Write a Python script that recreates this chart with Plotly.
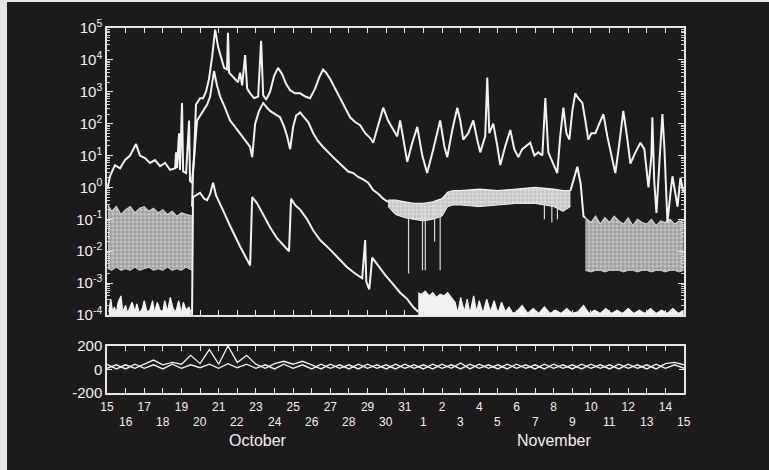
import plotly.graph_objects as go
from plotly.subplots import make_subplots

# ---------------- data (x = days after 15 October, y = log10 of flux) ----------------
hi_day = [0.05, 0.16, 0.43, 0.7, 0.97, 1.24, 1.4, 1.56, 1.77, 2.04, 2.31, 2.58, 2.85, 3.12, 3.39, 3.66,
          3.71, 3.76, 3.87, 3.92, 4.03, 4.09, 4.25, 4.41, 4.46, 4.57, 4.68, 4.78, 5.0, 5.16, 5.32, 5.48,
          5.65, 5.81, 5.97, 6.13, 6.29, 6.45, 6.5, 6.56, 6.72, 6.88, 7.04, 7.15, 7.26, 7.42, 7.53, 7.69,
          7.9, 8.12, 8.28, 8.39, 8.55, 8.76, 8.98, 9.19, 9.41, 9.62, 9.84, 10.1, 10.38, 10.65, 10.91,
          11.18, 11.4, 11.61, 11.77, 11.99, 12.26, 12.53, 12.8, 13.06, 13.33, 13.6, 13.87, 14.14, 14.3,
          14.57, 14.84, 15.1, 15.38, 15.59, 15.75, 15.97, 16.13, 16.4, 16.67, 16.94, 17.2, 17.53, 17.9,
          18.12, 18.28, 18.55, 18.82, 18.98, 19.14, 19.41, 19.68, 19.89, 20.05, 20.32, 20.43, 20.54,
          20.75, 20.97, 21.13, 21.4, 21.67, 21.88, 22.1, 22.31, 22.53, 22.74, 22.96, 23.17, 23.39, 23.55,
          23.71, 23.92, 24.19, 24.35, 24.52, 24.68, 24.84, 25.0, 25.16, 25.32, 25.54, 25.7, 25.86, 26.02,
          26.24, 26.45, 26.67, 26.88, 27.1, 27.31, 27.53, 27.74, 27.96, 28.12, 28.39, 28.66, 28.87, 29.09,
          29.25, 29.3, 29.4, 29.52, 29.68, 29.84, 29.95, 30.11, 30.27, 30.38, 30.54, 30.65, 30.81, 30.97]
hi_log = [0.02, 0.36, 0.7, 0.6, 0.86, 1.0, 1.18, 1.36, 1.0, 0.92, 0.77, 0.86, 0.67, 0.77, 0.55, 0.6,
          1.1, 0.6, 1.7, 0.55, 2.65, 0.5, 0.45, 2.1, 0.2, 0.15, 1.0, 2.6, 2.8, 2.8, 3.0, 3.4,
          4.1, 4.95, 4.4, 4.05, 3.75, 3.7, 4.85, 3.6, 3.5, 3.4, 3.3, 3.6, 3.2, 4.15, 3.1, 2.95,
          2.8, 2.85, 4.6, 2.9, 2.75, 3.0, 3.5, 3.75, 3.55, 3.25, 3.05, 2.95, 2.95, 2.85, 2.8,
          3.1, 3.45, 3.7, 3.6, 3.4, 3.1, 2.75, 2.45, 2.2, 2.05, 1.95, 1.7, 1.55, 1.4,
          1.95, 2.5, 2.1, 1.8, 1.6, 2.1, 1.3, 0.8, 1.4, 1.9, 1.0, 0.45, 1.2, 2.1,
          1.3, 0.95, 1.8, 2.5, 2.1, 1.5, 1.7, 2.1, 1.5, 1.1, 1.6, 3.45, 1.7,
          2.0, 1.3, 0.7, 1.3, 1.8, 1.2, 0.95, 1.2, 1.3, 1.4, 1.0, 1.1, 1.0, 2.8,
          1.1, 0.8, 0.45, 1.6, 2.5, 1.7, 1.5, 2.4, 2.95, 2.8, 2.65, 2.1, 1.5, 1.7,
          1.7, 2.0, 2.3, 1.6, 1.0, 0.45, 1.4, 2.4, 1.5, 0.75, 1.1, 1.4, 1.2, 0.0,
          1.0, 2.2, 0.2, -0.8, 0.8, 2.3, 1.2, -1.1, -0.2, 0.35, -0.2, -0.6, 0.3, -0.15]

# middle channel: event profile
mid_day = [4.57, 4.62, 4.73, 4.84, 5.0, 5.16, 5.38, 5.54, 5.75, 5.91, 6.08, 6.34, 6.61, 6.88, 7.15,
           7.42, 7.69, 7.8, 7.96, 8.17, 8.39, 8.6, 8.76, 9.03, 9.3, 9.52, 9.68, 9.84, 10.0, 10.16,
           10.38, 10.59, 10.81, 11.08, 11.34, 11.61, 11.88, 12.15, 12.42, 12.69, 12.96, 13.23, 13.49,
           13.76, 14.03, 14.3, 14.57, 14.84, 15.1]
mid_log = [-0.6, 0.45, 1.3, 2.1, 2.25, 2.4, 2.6, 2.85, 3.65, 3.2, 2.85, 2.5, 2.1, 1.9, 1.7,
           1.5, 1.27, 0.95, 2.0, 2.4, 2.65, 2.5, 2.4, 2.3, 2.2, 1.9, 1.6, 1.2, 1.9, 2.25,
           2.35, 2.2, 2.05, 1.7, 1.45, 1.27, 1.1, 0.95, 0.8, 0.65, 0.5, 0.45, 0.33,
           0.25, 0.15, -0.08, -0.2, -0.35, -0.45]
# middle channel: noisy quiet-time band (top / bottom)
mid_band_day = [15.1, 15.5, 16.0, 16.5, 17.0, 17.5, 18.0, 18.3, 18.6, 19.0, 20.0, 21.0, 22.0, 23.0,
                24.0, 24.5, 24.9]
mid_band_top = [-0.4, -0.4, -0.45, -0.5, -0.5, -0.45, -0.35, -0.15, -0.1, -0.1, -0.05, -0.1, -0.05,
                0.0, -0.05, -0.1, -0.1]
mid_band_bot = [-0.6, -0.85, -0.95, -1.0, -1.05, -1.0, -0.9, -0.6, -0.55, -0.55, -0.6, -0.55, -0.5,
                -0.5, -0.6, -0.75, -0.6]
mid_peak_day = [24.9, 25.05, 25.27, 25.45, 25.6, 25.7]
mid_peak_log = [-0.1, 0.2, 0.65, 0.1, -0.9, -0.95]
# dropouts of the middle channel
mid_drop_day = [16.2, 16.95, 17.1, 17.6, 17.9, 23.5, 23.9, 24.2]
mid_drop_top = [-0.45, -0.5, -0.5, -0.45, -0.4, -0.1, -0.1, -0.1]
mid_drop_log = [-2.7, -2.6, -2.6, -1.7, -2.6, -1.0, -1.1, -1.0]
# middle channel background (before and after the event)
bg1_day = [0.05, 0.25, 0.5, 0.75, 1.0, 1.25, 1.5, 1.75, 2.0, 2.25, 2.5, 2.75, 3.0, 3.25, 3.5, 3.75,
           4.0, 4.25, 4.57]
bg1_top = [-0.55, -0.75, -0.6, -0.85, -0.7, -0.6, -0.8, -0.65, -0.6, -0.75, -0.65, -0.8, -0.7, -0.85,
           -0.75, -0.9, -0.8, -0.85, -0.9]
bg1_bot = [-2.55, -2.6, -2.5, -2.6, -2.55, -2.6, -2.5, -2.6, -2.55, -2.5, -2.6, -2.55, -2.6, -2.5,
           -2.6, -2.55, -2.6, -2.5, -2.6]
bg2_day = [25.7, 26.0, 26.25, 26.5, 26.75, 27.0, 27.25, 27.5, 27.75, 28.0, 28.25, 28.5, 28.75, 29.0,
           29.25, 29.5, 29.75, 30.0, 30.25, 30.5, 30.75, 30.98]
bg2_top = [-0.95, -1.1, -0.9, -1.15, -0.95, -1.1, -0.9, -1.05, -1.15, -0.95, -1.2, -1.0, -1.1, -1.15,
           -1.0, -1.2, -1.05, -1.1, -1.0, -1.15, -1.05, -1.1]
bg2_bot = [-2.6, -2.65, -2.6, -2.6, -2.65, -2.6, -2.6, -2.6, -2.65, -2.6, -2.6, -2.65, -2.6, -2.6,
           -2.65, -2.6, -2.6, -2.65, -2.6, -2.6, -2.65, -2.6]

# lowest channel: event profile
low_day = [4.57, 4.62, 4.78, 5.0, 5.22, 5.38, 5.54, 5.7, 5.86, 6.08, 6.34, 6.61, 6.88, 7.15, 7.42,
           7.69, 7.8, 8.06, 8.39, 8.76, 9.14, 9.46, 9.68, 9.78, 9.89, 10.1, 10.38, 10.75, 11.08,
           11.45, 11.99, 12.53, 12.9, 13.33, 13.71, 13.87, 13.93, 14.09, 14.25, 14.57, 14.95, 15.32,
           15.75, 16.13, 16.45, 16.72]
low_log = [-4.0, -0.3, -0.25, -0.17, -0.35, -0.4, -0.2, 0.15, -0.25, -0.55, -0.85, -1.2, -1.55,
           -1.85, -2.15, -2.45, -0.3, -0.5, -0.85, -1.25, -1.6, -1.8, -1.95, -2.0, -0.35, -0.55,
           -0.7, -1.0, -1.35, -1.65, -1.95, -2.27, -2.5, -2.7, -2.85, -1.65, -2.95, -3.2, -2.2,
           -2.45, -2.75, -3.0, -3.3, -3.5, -3.75, -3.9]
# lowest channel: counts near the instrument floor
lowbg1_day = [0.1, 0.2, 0.3, 0.4, 0.5, 0.6, 0.75, 0.85, 1.0, 1.1, 1.2, 1.35, 1.5, 1.6, 1.75, 1.9,
              2.0, 2.15, 2.3, 2.45, 2.55, 2.7, 2.85, 3.0, 3.1, 3.25, 3.4, 3.55, 3.7, 3.85, 4.0,
              4.1, 4.25, 4.4, 4.5]
lowbg1_top = [-3.9, -3.5, -3.9, -3.75, -3.95, -3.6, -3.4, -3.9, -3.7, -3.95, -3.8, -3.6, -3.9,
              -3.65, -3.95, -3.8, -3.55, -3.9, -3.85, -3.55, -3.95, -3.6, -3.85, -3.9, -3.55, -3.9,
              -3.45, -3.8, -3.9, -3.55, -3.95, -3.6, -3.85, -3.75, -3.9]
lowbg2_day = [16.72, 16.9, 17.1, 17.3, 17.5, 17.7, 17.9, 18.1, 18.3, 18.5, 18.7, 18.85, 19.0, 19.2,
              19.35, 19.5, 19.7, 19.85, 20.0, 20.2, 20.4, 20.6, 20.8, 21.0, 21.2, 21.4, 21.6, 21.8,
              22.0, 22.3, 22.6, 22.9, 23.2, 23.5, 23.8, 24.1, 24.4, 24.7, 25.0, 25.3, 25.6, 25.9,
              26.2, 26.5, 26.8, 27.1, 27.4, 27.7, 28.0, 28.3, 28.6, 28.9, 29.2, 29.5, 29.8, 30.1,
              30.4, 30.7, 30.98]
lowbg2_top = [-3.3, -3.35, -3.25, -3.4, -3.3, -3.45, -3.35, -3.4, -3.3, -3.45, -3.6, -3.95, -3.45,
              -3.9, -3.5, -3.95, -3.4, -3.9, -3.55, -3.95, -3.5, -3.9, -3.55, -3.95, -3.6, -3.9,
              -3.75, -3.95, -3.9, -3.7, -3.95, -3.8, -3.95, -3.75, -3.95, -3.85, -3.95, -3.8, -3.95,
              -3.9, -3.7, -3.95, -3.85, -3.95, -3.8, -3.95, -3.85, -3.95, -3.8, -3.95, -3.85, -3.95,
              -3.8, -3.95, -3.85, -3.95, -3.8, -3.95, -3.85]
floor_log = -4.02

# lower panel: two field components, every half day
b_day = [i * 0.5 for i in range(63)]
b_comp1 = [45, 5, 40, 10, 45, 80, 40, 60, 45, 120, 50, 170, 45, 200, 60, 120, 45, 10, 50, 70, 45,
           70, 40, 5, 45, 10, 40, 5, 45, 10, 40, 5, 45, 10, 40, 5, 45, 10, 55, 5, 45, 10, 40, 5, 45,
           10, 40, 5, 45, 10, 40, 5, 45, 10, 40, 5, 45, 10, 40, 5, 50, 60, 40]
b_comp2 = [10, 40, 5, 45, 10, 40, 5, 45, 10, 40, 15, 45, 10, 50, 15, 45, 10, 40, 5, 45, 10, 40,
           5, 45, 10, 40, 5, 45, 10, 40, 5, 45, 10, 40, 5, 45, 10, 40, 5, 45, 10, 40, 5, 45, 10,
           40, 5, 45, 10, 40, 5, 45, 10, 40, 5, 45, 10, 40, 5, 45, 10, 40, 10]

# axis labels
oct_days = list(range(15, 32))
nov_days = list(range(1, 16))
decade_exp = [-4, -3, -2, -1, 0, 1, 2, 3, 4, 5]

# ---------------- figure ----------------
BG = "#1c1a1a"
FG = "#f2f2f2"
FONT = "Liberation Sans, Arial, sans-serif"
SPECKLE = dict(shape=".", bgcolor="#a0a0a0", fgcolor="#e6e6e6", size=4, solidity=0.45)


def p10(vals):
    return [10 ** v for v in vals]


fig = make_subplots(rows=2, cols=1)


def band(days, top, bot, edge, fillcolor=None, pattern=None):
    fig.add_trace(go.Scatter(x=days, y=p10(bot), mode="lines",
                             line=dict(color=edge, width=1), hoverinfo="skip"), row=1, col=1)
    kw = dict(fillpattern=pattern) if pattern else dict(fillcolor=fillcolor)
    fig.add_trace(go.Scatter(x=days, y=p10(top), mode="lines", fill="tonexty",
                             line=dict(color=edge, width=1.2), hoverinfo="skip", **kw),
                  row=1, col=1)


# background bands of the middle channel
band(bg1_day, bg1_top, bg1_bot, "#d0d0d0", pattern=SPECKLE)
band(bg2_day, bg2_top, bg2_bot, "#d0d0d0", pattern=SPECKLE)
band(mid_band_day, mid_band_top, mid_band_bot, FG,
     pattern=dict(shape=".", bgcolor="#c4c4c4", fgcolor="#f4f4f4", size=4, solidity=0.5))

# floor counts of the lowest channel
for d, t in ((lowbg1_day, lowbg1_top), (lowbg2_day, lowbg2_top)):
    band(d, t, [floor_log] * len(d), FG, fillcolor=FG)

# dropouts
dx, dy = [], []
for d, t, v in zip(mid_drop_day, mid_drop_top, mid_drop_log):
    dx += [d, d, None]
    dy += [10 ** t, 10 ** v, None]
fig.add_trace(go.Scatter(x=dx, y=dy, mode="lines", line=dict(color="#d8d8d8", width=1.2),
                         hoverinfo="skip"), row=1, col=1)

# main profiles
for d, v in ((hi_day, hi_log), (mid_day, mid_log), (mid_peak_day, mid_peak_log), (low_day, low_log)):
    fig.add_trace(go.Scatter(x=d, y=p10(v), mode="lines", line=dict(color=FG, width=2),
                             hoverinfo="skip"), row=1, col=1)

# lower panel
for comp in (b_comp2, b_comp1):
    fig.add_trace(go.Scatter(x=b_day, y=comp, mode="lines", line=dict(color=FG, width=1.3),
                             hoverinfo="skip"), row=2, col=1)

all_dates = oct_days + nov_days
label_days = list(range(0, 32, 2))
odd_days = list(range(1, 32, 2))

axis_common = dict(showline=True, linecolor="#e6e6e6", linewidth=1.5, mirror="allticks",
                   ticks="inside", tickcolor="#e6e6e6", showgrid=False, zeroline=False)
day_minor = dict(tickmode="array", tickvals=odd_days, ticks="inside", ticklen=5,
                 tickcolor="#e6e6e6", showgrid=False)

fig.update_xaxes(range=[0, 31], tickmode="array", tickvals=label_days, ticklen=5,
                 minor=day_minor, **axis_common)
fig.update_xaxes(showticklabels=False, row=1, col=1)
fig.update_xaxes(ticktext=[str(all_dates[i]) for i in label_days],
                 tickfont=dict(family=FONT, size=12, color=FG), ticklabelstandoff=2, row=2, col=1)

fig.update_yaxes(type="log", range=[-4, 5], tickmode="array",
                 tickvals=[10 ** e for e in decade_exp],
                 ticktext=["10<sup>%d</sup>" % e for e in decade_exp],
                 tickfont=dict(family=FONT, size=15, color=FG), ticklen=6,
                 minor=dict(ticks="inside", ticklen=3, tickcolor="#cfcfcf", dtick="D1"),
                 domain=[0.2137, 1.0], **axis_common, row=1, col=1)
fig.update_yaxes(range=[-200, 200], tickmode="array", tickvals=[-200, 0, 200],
                 ticktext=["-200", "0", "200"], tickfont=dict(family=FONT, size=15, color=FG),
                 ticklen=5, domain=[0.0, 0.1288], **axis_common, row=2, col=1)

# second row of date labels and month names
annotations = []
for i in odd_days:
    annotations.append(dict(x=i, y=-0.0795, xref="x2", yref="paper", text=str(all_dates[i]),
                            showarrow=False, yanchor="middle",
                            font=dict(family=FONT, size=12, color=FG)))
annotations.append(dict(x=8.1, y=-0.1315, xref="x2", yref="paper", text="October", showarrow=False,
                        yanchor="middle", font=dict(family=FONT, size=16, color=FG)))
annotations.append(dict(x=24.0, y=-0.1315, xref="x2", yref="paper", text="November", showarrow=False,
                        yanchor="middle", font=dict(family=FONT, size=16, color=FG)))

# paper edge visible at the left and top
shapes = [
    dict(type="rect", xref="paper", yref="paper", x0=-0.3, x1=-0.1733, y0=-0.5, y1=1.2,
         fillcolor="#e4e4e4", line=dict(width=0), layer="above"),
    dict(type="rect", xref="paper", yref="paper", x0=-0.3, x1=1.5, y0=1.0712, y1=1.2,
         fillcolor="#e4e4e4", line=dict(width=0), layer="above"),
]

fig.update_layout(width=769, height=470, showlegend=False, paper_bgcolor=BG, plot_bgcolor=BG,
                  margin=dict(l=107, r=85, t=28, b=77), annotations=annotations, shapes=shapes,
                  font=dict(family=FONT, color=FG))

fig.write_html("out.html")
